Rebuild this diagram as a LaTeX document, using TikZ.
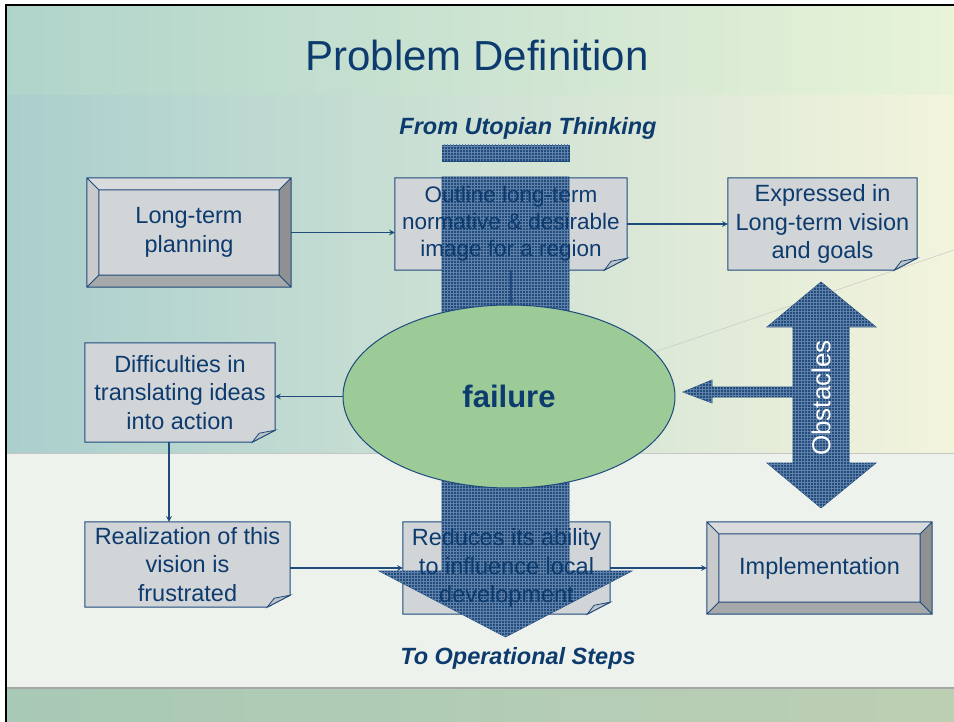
\documentclass[tikz,border=0pt]{standalone}
\usepackage{fontspec}
\setmainfont{Liberation Sans}
\usetikzlibrary{shapes.geometric,patterns}

\definecolor{ink}{HTML}{0D3B6E}
\definecolor{edge}{HTML}{1F4A7C}
\definecolor{arrowblue}{HTML}{224C7C}
\definecolor{hatch}{HTML}{5F80A8}
\definecolor{notegray}{HTML}{D2D5D8}
\definecolor{flapgray}{HTML}{BFC2C6}
\definecolor{failgreen}{HTML}{9CCB98}
\definecolor{bevlight}{HTML}{DADBDC}
\definecolor{bevside}{HTML}{C9CACC}
\definecolor{bevdark}{HTML}{8E9092}
\definecolor{bevmid}{HTML}{A6A8AA}
\definecolor{bgleft}{HTML}{AACFCD}
\definecolor{bgmid}{HTML}{D5EBD6}
\definecolor{bgright}{HTML}{F3F4DC}
\definecolor{bandleft}{HTML}{B9DCC9}
\definecolor{bandright}{HTML}{DCF3D4}
\definecolor{panel}{HTML}{EEF2ED}
\definecolor{footleft}{HTML}{A8C9B6}
\definecolor{footright}{HTML}{BCCFB3}

\tikzset{note/.style  = {inner sep=0pt, align=center, text=ink, font=\fontsize{23.5}{28.5}\selectfont},
         bevel/.style = {inner sep=0pt, align=center, text=ink, font=\fontsize{23.5}{28.5}\selectfont},
         fail/.style  = {ellipse, draw=edge, line width=1pt, fill=failgreen, minimum width=332, minimum height=183,
                         inner sep=0pt, text=ink, font=\fontsize{31}{31}\selectfont\bfseries},
         tag/.style   = {inner sep=0pt, text=ink, font=\fontsize{23.5}{23.5}\selectfont\bfseries\itshape},
         link/.style  = {->, draw=edge, line width=1.5pt},
         bigarrow/.style = {fill=arrowblue, draw=edge, line width=0.6pt}}

\newcommand{\notebox}[1]{%
  \filldraw[fill=notegray, draw=edge, line width=1pt] (#1.north west) -- (#1.north east) -- ([yshift=12pt]#1.south east)
    -- ([xshift=-23pt]#1.south east) -- (#1.south west) -- cycle;
  \filldraw[fill=flapgray, draw=edge, line width=0.8pt] ([xshift=-23pt]#1.south east) -- ([xshift=-16pt,yshift=9pt]#1.south east)
    -- ([yshift=12pt]#1.south east) -- cycle;}
\newcommand{\bevelbox}[1]{%
  \coordinate (#1-a) at ([xshift=12pt,yshift=-12pt]#1.north west);
  \coordinate (#1-b) at ([xshift=-12pt,yshift=-12pt]#1.north east);
  \coordinate (#1-c) at ([xshift=-12pt,yshift=12pt]#1.south east);
  \coordinate (#1-d) at ([xshift=12pt,yshift=12pt]#1.south west);
  \fill[bevlight] (#1.north west) -- (#1.north east) -- (#1-b) -- (#1-a) -- cycle;
  \fill[bevside] (#1.north west) -- (#1-a) -- (#1-d) -- (#1.south west) -- cycle;
  \fill[bevdark] (#1.north east) -- (#1.south east) -- (#1-c) -- (#1-b) -- cycle;
  \fill[bevmid] (#1.south west) -- (#1-d) -- (#1-c) -- (#1.south east) -- cycle;
  \fill[notegray] (#1-a) rectangle (#1-c);
  \draw[edge, line width=1pt] (#1.north west) rectangle (#1.south east) (#1-a) rectangle (#1-c)
    (#1.north west) -- (#1-a) (#1.north east) -- (#1-b) (#1.south east) -- (#1-c) (#1.south west) -- (#1-d);}

\pgfdeclarelayer{back}
\pgfdeclarelayer{boxes}
\pgfdeclarelayer{arrows}
\pgfsetlayers{back,boxes,arrows,main}

\begin{document}
\begin{tikzpicture}[x=1pt, y=-1pt, >=stealth]
    \useasboundingbox (0,0) rectangle (954,722);

    \node[text=ink, font=\fontsize{42}{42}\selectfont] (title) at (477,55) {Problem Definition};
    \node[tag] (from) at (528,128) {From Utopian Thinking};
    \node[tag] (to) at (518,658) {To Operational Steps};

    \node[bevel, minimum width=204, minimum height=109] (plan) at (189,232.5) {Long-term\\planning};
    \node[note, minimum width=232, minimum height=92, font=\fontsize{22.5}{27}\selectfont] (outline) at (511,224)
        {Outline long-term\\normative \& desirable\\image for a region};
    \node[note, minimum width=189, minimum height=92] (vision) at (822.5,224) {Expressed in\\Long-term vision\\and goals};
    \node[fail] (fail) at (509,396.5) {failure};
    \node[note, minimum width=190, minimum height=99] (diff) at (180,392.5) {Difficulties in\\translating ideas\\into action};
    \node[note, minimum width=205, minimum height=85] (real) at (187.5,564.5) {Realization of this\\vision is\\frustrated};
    \node[note, minimum width=207, minimum height=92] (reduce) at (506.5,568) {Reduces its ability\\to influence local\\development};
    \node[bevel, minimum width=225, minimum height=92] (impl) at (819.5,568) {Implementation};
    \node[rotate=90, inner sep=0pt, text=white, font=\fontsize{26}{26}\selectfont] (obst) at (821,398) {Obstacles};

    \draw[link] (plan.east) -- (plan.east -| outline.west);
    \draw[link] (outline.east) -- (vision.west);
    \draw[link] (outline.south) -- (outline.south |- fail.north);
    \draw[link] (fail.west) -- (fail.west -| diff.east);
    \draw[link] ([xshift=-11pt]diff.south) -- ([xshift=-11pt]diff.south |- real.north);
    \draw[link] (reduce.west -| real.east) -- (reduce.west);
    \draw[link] (reduce.east) -- (impl.west);

    % background
    \begin{pgfonlayer}{back}
      \fill[white] (0,0) rectangle (954,722);
      \shade[left color=bgleft, middle color=bgmid, right color=bgright] (6,5) rectangle (954,453);
      \shade[left color=bandleft, right color=bandright, opacity=0.45] (6,5) rectangle (954,95);
      \draw[gray!40, line width=0.6pt] (640,357) -- (954,250);
      \fill[panel] (6,453) rectangle (954,688);
      \draw[gray!45, line width=1.5pt] (6,453.5) -- (954,453.5);
      \shade[left color=footleft, right color=footright] (6,688) rectangle (954,722);
      \draw[gray!70, line width=1.5pt] (6,688) -- (954,688);
      \draw[black, line width=2.2pt] (6,722) -- (6,5) -- (954,5);
    \end{pgfonlayer}

    % boxes
    \begin{pgfonlayer}{boxes}
      \bevelbox{plan}
      \bevelbox{impl}
      \notebox{outline}
      \notebox{vision}
      \notebox{diff}
      \notebox{real}
      \notebox{reduce}
    \end{pgfonlayer}

    % block arrows
    \begin{pgfonlayer}{arrows}
      \filldraw[bigarrow] (442,145) rectangle (569,161);
      \filldraw[bigarrow] (442,177) -- (569,177) -- (569,571) -- (632,571) -- (505.5,637) -- (379,571) -- (442,571) -- cycle;
      \filldraw[bigarrow] (821,282) -- (876,327) -- (849,327) -- (849,463) -- (876,463) -- (821,508)
          -- (767,463) -- (793,463) -- (793,327) -- (767,327) -- cycle;
      \filldraw[bigarrow] (793,387) -- (712,387) -- (712,380) -- (683,392) -- (712,403) -- (712,397) -- (793,397) -- cycle;
      \fill[pattern=grid, pattern color=hatch] (442,145) rectangle (569,161);
      \fill[pattern=grid, pattern color=hatch] (442,177) -- (569,177) -- (569,571) -- (632,571) -- (505.5,637) -- (379,571) -- (442,571) -- cycle;
      \fill[pattern=grid, pattern color=hatch] (821,282) -- (876,327) -- (849,327) -- (849,463) -- (876,463) -- (821,508)
          -- (767,463) -- (793,463) -- (793,327) -- (767,327) -- cycle;
      \fill[pattern=grid, pattern color=hatch] (793,387) -- (712,387) -- (712,380) -- (683,392) -- (712,403) -- (712,397) -- (793,397) -- cycle;
    \end{pgfonlayer}
\end{tikzpicture}
\end{document}
